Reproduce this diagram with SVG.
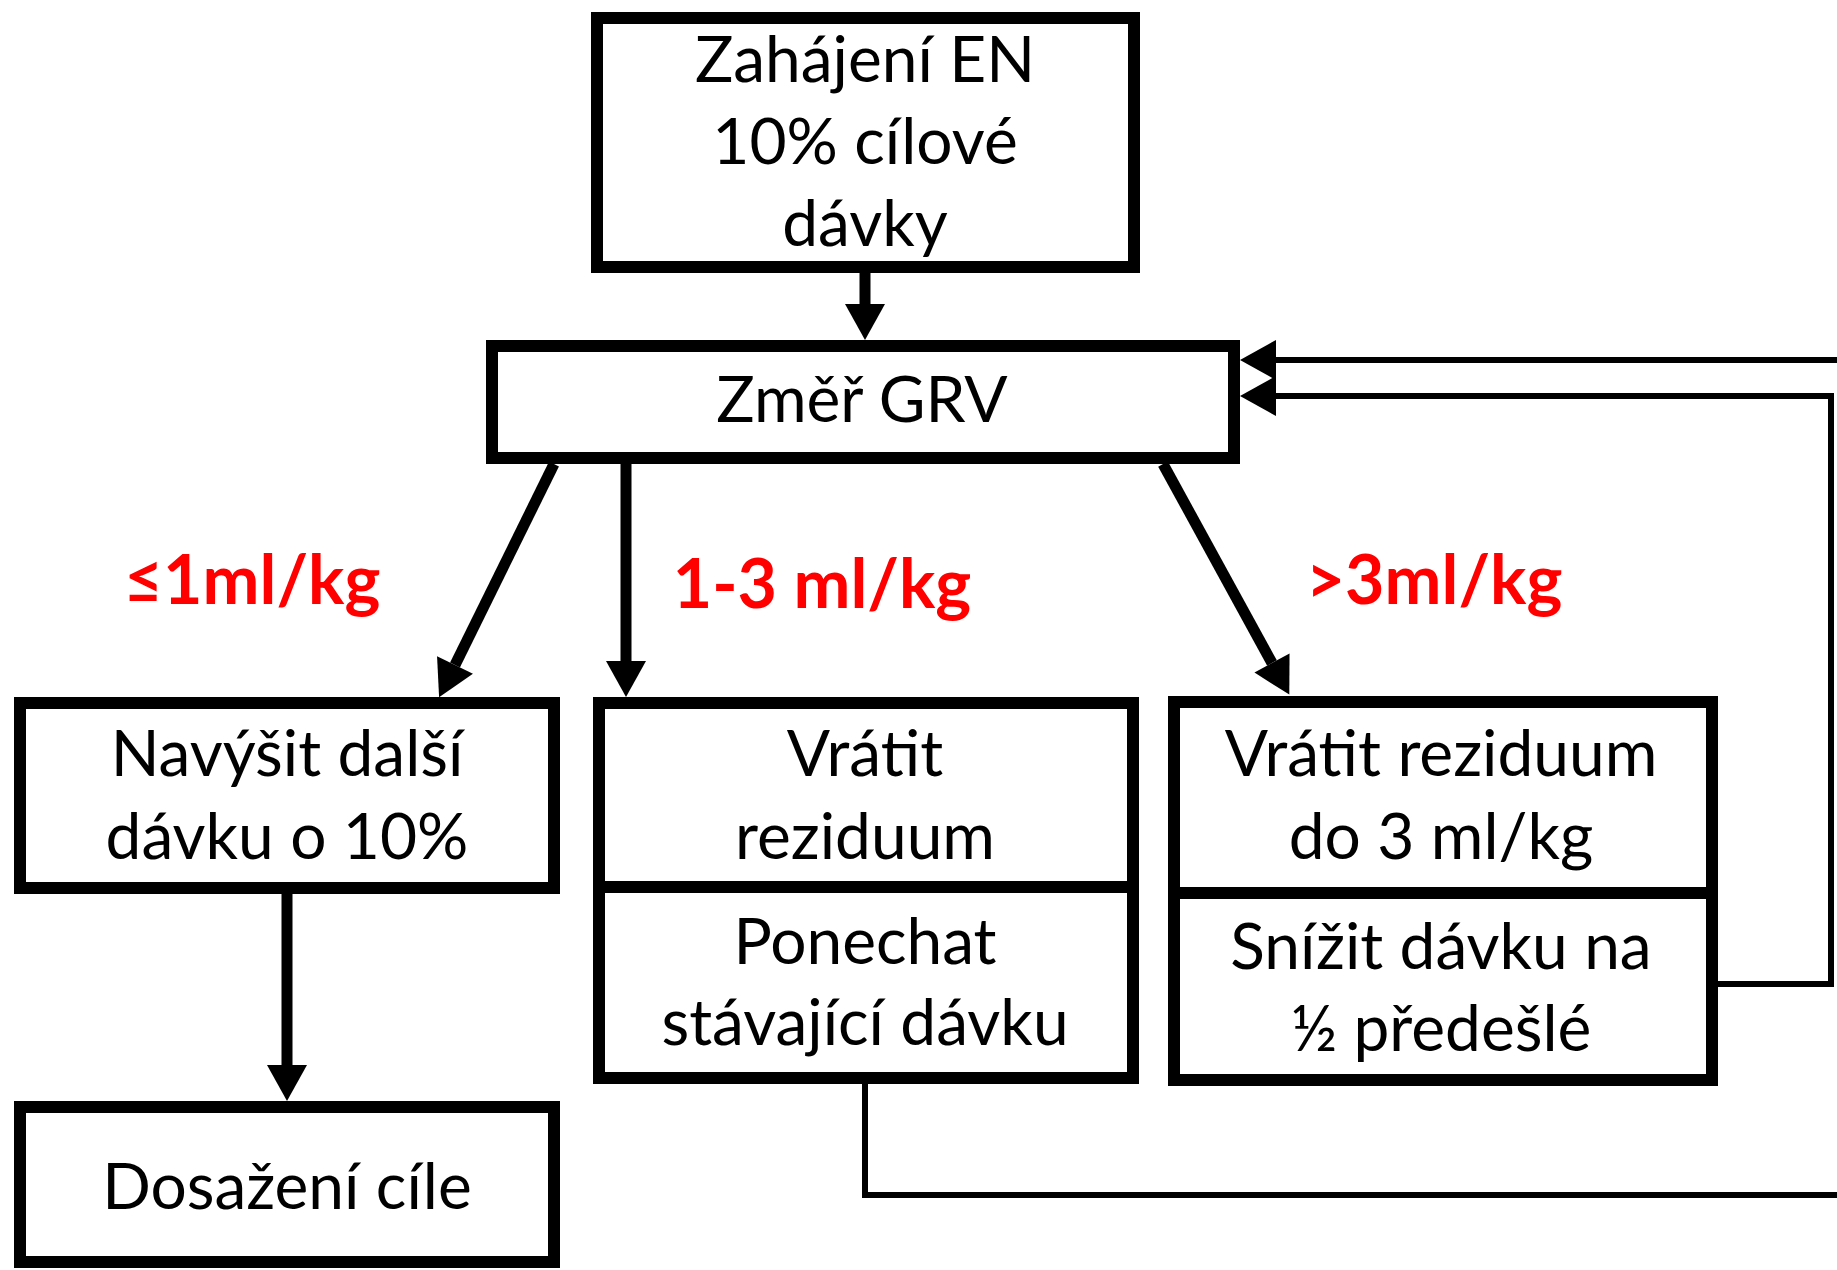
<svg xmlns="http://www.w3.org/2000/svg" width="1837" height="1270" viewBox="0 0 1837 1270">
<style>
.box{fill:#fff;stroke:#000;stroke-width:12}
.div{stroke:#000;stroke-width:12}
.t{font-family:Lato,"Open Sans","Liberation Sans",sans-serif;font-size:64px;fill:#000;text-anchor:middle}
.lbl{font-family:Lato,"Open Sans","Liberation Sans",sans-serif;font-size:68px;font-weight:bold;fill:#ff0000;text-anchor:middle}
.c{fill:none;stroke:#000;stroke-width:11}
.cf{fill:none;stroke:#000;stroke-width:6}
</style>
<defs>
<marker id="ah" markerUnits="userSpaceOnUse" markerWidth="40" markerHeight="42" refX="0" refY="20" orient="auto" overflow="visible">
<path d="M0,0 L36,20 L0,40 z" fill="#000"/>
</marker>
</defs>
<rect width="1837" height="1270" fill="#fff"/>
<g id="connectors">
<line class="c" x1="865" y1="272" x2="865" y2="304" marker-end="url(#ah)"/>
<line class="c" x1="554" y1="464" x2="455" y2="665" marker-end="url(#ah)"/>
<line class="c" x1="626" y1="463" x2="626" y2="661" marker-end="url(#ah)"/>
<line class="c" x1="1163" y1="464" x2="1272" y2="663" marker-end="url(#ah)"/>
<line class="c" x1="287" y1="893" x2="287" y2="1065" marker-end="url(#ah)"/>
<path class="cf" d="M1850,360 H1276" marker-end="url(#ah)"/>
<path class="cf" d="M1718,984 H1831 V396 H1276" marker-end="url(#ah)"/>
<path class="cf" d="M865,1084 V1195 H1850"/>
</g>
<g id="labels">
<text class="lbl" x="252" y="604">≤1ml/kg</text>
<text class="lbl" x="822" y="608">1-3 ml/kg</text>
<text class="lbl" x="1434" y="604">&gt;3ml/kg</text>
</g>
<g id="n-start">
<rect class="box" x="597" y="18" width="537" height="249"/>
<text class="t" x="865" y="82">Zahájení EN</text>
<text class="t" x="865" y="164">10% cílové</text>
<text class="t" x="865" y="246">dávky</text>
</g>
<g id="n-grv">
<rect class="box" x="492" y="346" width="742" height="112"/>
<text class="t" x="862" y="422">Změř GRV</text>
</g>
<g id="n-increase">
<rect class="box" x="20" y="703" width="534" height="185"/>
<text class="t" x="287" y="776">Navýšit další</text>
<text class="t" x="287" y="859">dávku o 10%</text>
</g>
<g id="n-goal">
<rect class="box" x="20" y="1107" width="534" height="155"/>
<text class="t" x="287" y="1209">Dosažení cíle</text>
</g>
<g id="n-keep">
<rect class="box" x="599" y="703" width="534" height="375"/>
<line class="div" x1="599" y1="887" x2="1133" y2="887"/>
<text class="t" x="865" y="776">Vrátit</text>
<text class="t" x="865" y="859">reziduum</text>
<text class="t" x="865" y="964">Ponechat</text>
<text class="t" x="865" y="1045">stávající dávku</text>
</g>
<g id="n-reduce">
<rect class="box" x="1174" y="702" width="538" height="378"/>
<line class="div" x1="1174" y1="893" x2="1712" y2="893"/>
<text class="t" x="1441" y="776">Vrátit reziduum</text>
<text class="t" x="1441" y="859">do 3 ml/kg</text>
<text class="t" x="1441" y="969">Snížit dávku na</text>
<text class="t" x="1441" y="1051">½ předešlé</text>
</g>
</svg>
